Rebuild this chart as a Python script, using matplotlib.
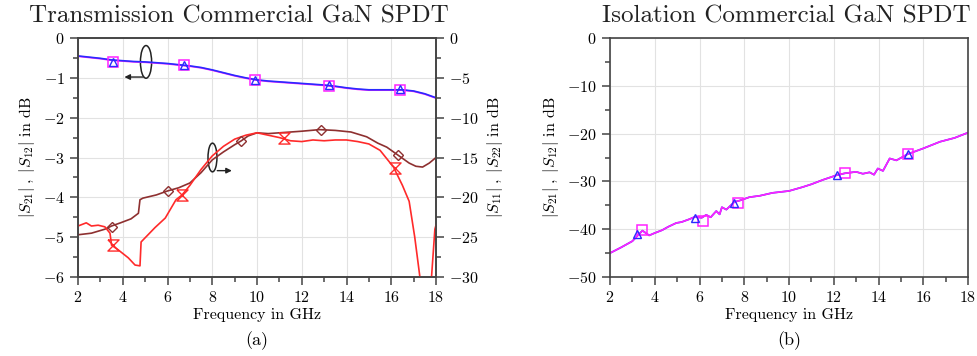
import matplotlib
matplotlib.use('Agg')
import matplotlib.pyplot as plt
import numpy as np
from matplotlib.patches import Ellipse
from matplotlib.ticker import MultipleLocator

plt.rcParams['font.family'] = 'serif'
plt.rcParams['font.serif'] = ['cmr10']
plt.rcParams['mathtext.fontset'] = 'cm'
plt.rcParams['axes.formatter.use_mathtext'] = True

# transmission, left axis (|S21|, |S12|)
f_tr = [2, 2.5, 3, 3.5, 4, 4.5, 5, 5.5, 6, 6.5, 7, 7.5, 8, 8.5, 9, 9.5, 10, 10.5, 11,
        11.5, 12, 12.5, 13, 13.5, 14, 14.5, 15, 15.5, 16, 16.5, 17, 17.5, 18]
s21 = [-0.45, -0.48, -0.51, -0.55, -0.57, -0.59, -0.60, -0.62, -0.64, -0.67, -0.70, -0.74,
       -0.80, -0.87, -0.94, -1.00, -1.05, -1.08, -1.10, -1.12, -1.14, -1.16, -1.18, -1.21,
       -1.25, -1.28, -1.30, -1.30, -1.30, -1.30, -1.33, -1.40, -1.50]
s12 = [-0.46, -0.49, -0.52, -0.56, -0.58, -0.60, -0.61, -0.63, -0.65, -0.68, -0.71, -0.75,
       -0.81, -0.88, -0.95, -1.01, -1.06, -1.09, -1.11, -1.13, -1.15, -1.17, -1.19, -1.22,
       -1.26, -1.29, -1.31, -1.31, -1.31, -1.31, -1.34, -1.41, -1.51]
mk_tr_f = [3.55, 6.75, 9.9, 13.2, 16.4]
mk_s21 = [-0.60, -0.67, -1.05, -1.19, -1.29]
mk_s12 = [-0.61, -0.68, -1.06, -1.20, -1.30]

# reflection, right axis (|S11|, |S22|)
f_s22 = [2, 2.6, 3.2, 3.5, 3.9, 4.37, 4.7, 4.77, 4.9, 5.5, 6, 6.5, 7, 7.5, 8, 8.5, 9, 9.3,
         9.6, 10, 10.5, 11, 11.5, 12, 12.8, 13.5, 14.2, 14.9, 15.4, 15.8, 16.3, 16.8, 17.1,
         17.4, 17.7, 18]
s22 = [-24.7, -24.5, -24.0, -23.6, -23.2, -22.7, -22.0, -20.3, -20.1, -19.7, -19.2, -18.8,
       -18.2, -16.9, -15.3, -14.3, -13.4, -12.9, -12.3, -11.9, -12.0, -11.9, -11.8, -11.7,
       -11.5, -11.6, -11.8, -12.4, -13.2, -13.7, -14.7, -15.7, -16.1, -16.2, -15.7, -15.0]
f_s11 = [2, 2.37, 2.6, 2.9, 3.2, 3.43, 3.5, 3.8, 4.25, 4.55, 4.77, 4.82, 5.44, 5.9, 6.38,
         6.65, 7, 7.5, 8, 8.5, 9, 9.5, 10, 10.5, 11, 11.5, 12, 12.5, 13, 13.5, 14, 14.5, 15,
         15.5, 16.1, 16.5, 16.8, 17.05, 17.28, 17.5, 17.7, 17.8, 17.95, 18]
s11 = [-23.6, -23.2, -23.6, -23.5, -23.7, -24.5, -26.0, -26.6, -27.6, -28.5, -28.6, -25.6,
       -23.8, -22.6, -20.3, -19.7, -18.5, -16.5, -14.8, -13.6, -12.7, -12.2, -11.9, -12.2,
       -12.5, -12.9, -13.0, -12.8, -12.9, -12.8, -12.8, -13.0, -13.3, -14.1, -16.2, -18.5,
       -20.5, -25.0, -30.0, -36.0, -33.0, -30.0, -24.0, -23.5]
mk_s22_f = [3.5, 6.0, 9.3, 12.85, 16.3]
mk_s22 = [-23.7, -19.2, -12.9, -11.5, -14.7]
mk_s11_f = [3.55, 6.65, 11.2, 16.15]
mk_s11 = [-26.0, -19.7, -12.6, -16.3]

# isolation
f_iso = [2, 2.5, 3, 3.2, 3.45, 3.75, 4.0, 4.33, 4.6, 4.96, 5.2, 5.55, 5.8, 6.1, 6.3, 6.5,
         6.75, 6.9, 7.0, 7.2, 7.56, 7.8, 8.23, 8.7, 9.26, 10, 10.6, 11.0, 11.5, 12.13, 12.5,
         13.0, 13.3, 13.6, 13.8, 13.97, 14.2, 14.5, 14.8, 15.3, 16.0, 16.75, 17.4, 18]
iso = [-45.0, -43.8, -42.5, -41.5, -40.3, -41.3, -40.8, -40.2, -39.5, -38.7, -38.5, -37.9,
       -37.4, -37.6, -37.0, -37.5, -36.2, -36.9, -35.4, -35.9, -34.3, -34.0, -33.3, -33.0,
       -32.4, -32.0, -31.2, -30.6, -29.7, -28.7, -28.3, -28.0, -28.4, -28.1, -28.6, -27.3,
       -27.8, -25.2, -25.6, -24.3, -23.1, -21.7, -20.9, -19.8]
mk_tri_f = [3.2, 5.8, 7.56, 12.13, 15.3]
mk_tri = [-40.9, -37.7, -34.6, -28.7, -24.3]
mk_sq_f = [3.45, 6.15, 7.7, 12.5, 15.3]
mk_sq = [-40.2, -38.2, -34.6, -28.3, -24.3]

blue = '#2a2aff'
mag = '#ff22ff'
red = '#ff2a2a'
dred = '#8e3030'
spine_c = '#444444'
hourglass = [(-1, 1), (1, 1), (-1, -1), (1, -1), (-1, 1)]

fig = plt.figure(figsize=(9.77, 3.56), dpi=100)
ax = fig.add_axes([78/977, 1-277/356, 358/977, 239/356])
ax2 = ax.twinx()
axb = fig.add_axes([610/977, 1-277/356, 358/977, 239/356])


def style(a, right_ticks=False):
    for s in a.spines.values():
        s.set_color(spine_c)
        s.set_linewidth(1.2)
    a.tick_params(which='both', direction='out', color=spine_c, labelsize=11.5,
                  top=False, right=right_ticks, width=1.1)
    a.tick_params(which='major', length=6)
    a.tick_params(which='minor', length=3.5)


# left panel
ax.plot(f_tr, s12, color=mag, lw=1.2)
ax.plot(f_tr, s21, color=blue, lw=1.2)
ax.plot(mk_tr_f, mk_s12, 's', color=mag, ms=7, mfc='none', mew=1.1)
ax.plot(mk_tr_f, mk_s21, '^', color=blue, ms=5.5, mfc='none', mew=1.0)
ax.set_xlim(2, 18)
ax.set_ylim(-6, 0)
ax.xaxis.set_major_locator(MultipleLocator(2))
ax.xaxis.set_minor_locator(MultipleLocator(1))
ax.yaxis.set_major_locator(MultipleLocator(1))
ax.yaxis.set_minor_locator(MultipleLocator(0.5))
ax.grid(which='major', color='#e2e2e2', lw=0.8)
ax.set_axisbelow(True)
style(ax)
ax.set_xlabel('Frequency in GHz', fontsize=11.5, labelpad=2)
ax.set_ylabel(r'$|S_{21}|\;,\;|S_{12}|$ in dB', fontsize=11.5, labelpad=4)

ax2.plot(f_s22, s22, color=dred, lw=1.2)
ax2.plot(f_s11, s11, color=red, lw=1.2)
ax2.plot(mk_s22_f, mk_s22, 'D', color=dred, ms=5.5, mfc='none', mew=1.0)
ax2.plot(mk_s11_f, mk_s11, marker=hourglass, ls='none', color=red, ms=8, mfc='none', mew=1.0)
ax2.set_ylim(-30, 0)
ax2.yaxis.set_major_locator(MultipleLocator(5))
ax2.yaxis.set_minor_locator(MultipleLocator(2.5))
style(ax2, right_ticks=True)
ax2.tick_params(left=False)
ax2.set_ylabel(r'$|S_{11}|\;,\;|S_{22}|$ in dB', fontsize=11.5, labelpad=4)

# ellipse annotations
ax.add_patch(Ellipse((5.04, -0.6), 0.5, 0.82, fill=False, ec='#222222', lw=1.1))
ax.annotate('', xy=(3.95, -0.98), xytext=(5.04, -0.98),
            arrowprops=dict(arrowstyle='-|>', color='#222222', lw=1.0, mutation_scale=8))
ax.add_patch(Ellipse((8.01, -3.0), 0.4, 0.72, fill=False, ec='#222222', lw=1.1))
ax.annotate('', xy=(9.0, -3.33), xytext=(8.1, -3.33),
            arrowprops=dict(arrowstyle='-|>', color='#222222', lw=1.0, mutation_scale=8))

# right panel
axb.plot(f_iso, iso, color=blue, lw=1.2)
axb.plot(f_iso, iso, color=mag, lw=1.2)
axb.plot(mk_sq_f, mk_sq, 's', color=mag, ms=7, mfc='none', mew=1.1)
axb.plot(mk_tri_f, mk_tri, '^', color=blue, ms=5.5, mfc='none', mew=1.0)
axb.set_xlim(2, 18)
axb.set_ylim(-50, 0)
axb.xaxis.set_major_locator(MultipleLocator(2))
axb.xaxis.set_minor_locator(MultipleLocator(1))
axb.yaxis.set_major_locator(MultipleLocator(10))
axb.yaxis.set_minor_locator(MultipleLocator(5))
axb.grid(which='major', color='#e2e2e2', lw=0.8)
axb.set_axisbelow(True)
style(axb)
axb.set_xlabel('Frequency in GHz', fontsize=11.5, labelpad=2)
axb.set_ylabel(r'$|S_{21}|\;,\;|S_{12}|$ in dB', fontsize=11.5, labelpad=4)

fig.text(239/977, 1-16/356, 'Transmission Commercial GaN SPDT', fontsize=18,
         ha='center', va='center', color='#222222')
fig.text(786/977, 1-16/356, 'Isolation Commercial GaN SPDT', fontsize=18,
         ha='center', va='center', color='#222222')
fig.text(257/977, 1-341/356, '(a)', fontsize=13, ha='center', va='center')
fig.text(789/977, 1-341/356, '(b)', fontsize=13, ha='center', va='center')

fig.savefig('out.png', dpi=100)
